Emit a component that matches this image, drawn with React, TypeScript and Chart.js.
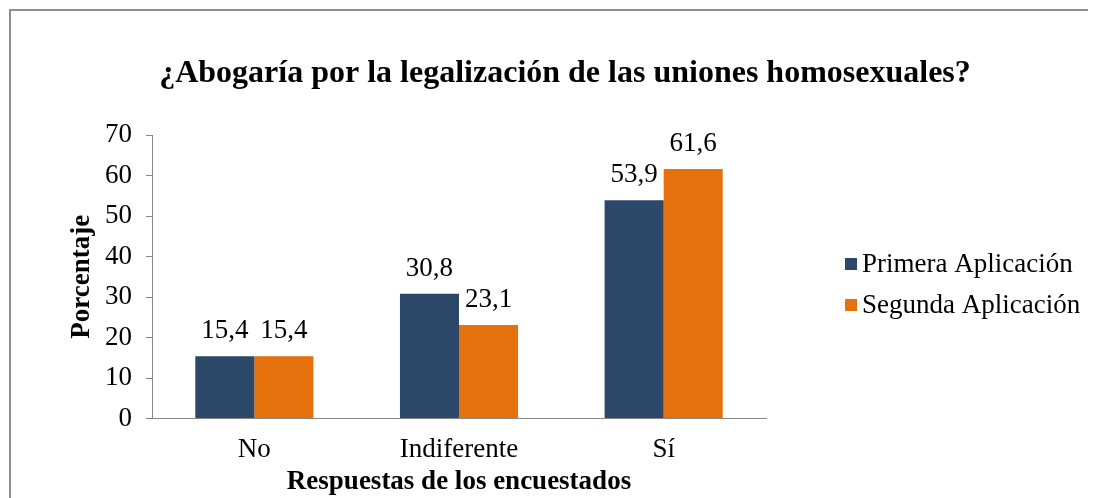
import React, { useEffect, useRef } from "react";
import { Chart, registerables } from "chart.js";

Chart.register(...registerables);

const TITLE = "¿Abogaría por la legalización de las uniones homosexuales?";
const CATEGORIES = ["No", "Indiferente", "Sí"];
const SERIES_NAMES = ["Primera Aplicación", "Segunda Aplicación"];
const PRIMERA = [15.4, 30.8, 53.9];
const SEGUNDA = [15.4, 23.1, 61.6];
const COLORS = ["#2C4869", "#E5710C"];
const Y_TITLE = "Porcentaje";
const X_TITLE = "Respuestas de los encuestados";
const Y_MIN = 0;
const Y_MAX = 70;
const Y_STEP = 10;

const FONT = "'Liberation Serif', 'Times New Roman', serif";
const AXIS_GRAY = "#868686";
const TEXT_SIZE = 27;

const annotate = {
  id: "annotate",
  afterDatasetsDraw(chart: any) {
    const ctx = chart.ctx;
    ctx.save();
    ctx.fillStyle = "#000";
    ctx.font = `${TEXT_SIZE}px ${FONT}`;
    ctx.textAlign = "center";
    ctx.textBaseline = "alphabetic";
    chart.data.datasets.forEach((ds: any, i: number) => {
      const meta = chart.getDatasetMeta(i);
      meta.data.forEach((bar: any, j: number) => {
        const v = ds.data[j] as number;
        ctx.fillText(v.toFixed(1).replace(".", ","), bar.x, bar.y - 18);
      });
    });
    ctx.restore();
  },
  afterDraw(chart: any) {
    const ctx = chart.ctx;
    ctx.save();
    // title
    ctx.fillStyle = "#000";
    ctx.font = `bold 32px ${FONT}`;
    ctx.textAlign = "center";
    ctx.textBaseline = "alphabetic";
    ctx.fillText(TITLE, 557, 74);
    // legend
    ctx.font = `${TEXT_SIZE}px ${FONT}`;
    ctx.textAlign = "left";
    ctx.textBaseline = "middle";
    const ys = [256, 297];
    chart.data.datasets.forEach((ds: any, i: number) => {
      ctx.fillStyle = ds.backgroundColor;
      ctx.fillRect(837, ys[i] - 6, 12, 12);
      ctx.fillStyle = "#000";
      ctx.fillText(ds.label, 854, ys[i] + 1);
    });
    ctx.restore();
  },
};

export default function App() {
  const ref = useRef<HTMLCanvasElement | null>(null);
  useEffect(() => {
    if (!ref.current) return;
    const chart = new Chart(ref.current, {
      type: "bar",
      data: {
        labels: CATEGORIES,
        datasets: [
          { label: SERIES_NAMES[0], data: PRIMERA, backgroundColor: COLORS[0] },
          { label: SERIES_NAMES[1], data: SEGUNDA, backgroundColor: COLORS[1] },
        ],
      },
      options: {
        animation: false,
        responsive: true,
        maintainAspectRatio: false,
        layout: { padding: { top: 127, right: 330, left: 0, bottom: 0 } },
        datasets: { bar: { categoryPercentage: 0.577, barPercentage: 1 } },
        plugins: {
          legend: { display: false },
          title: { display: false },
          tooltip: { enabled: false },
        },
        scales: {
          x: {
            grid: { drawOnChartArea: false, drawTicks: false, color: AXIS_GRAY },
            border: { display: true, color: AXIS_GRAY, width: 1 },
            ticks: { color: "#000", font: { family: FONT, size: TEXT_SIZE }, padding: 15, maxRotation: 0 },
            title: {
              display: true,
              text: X_TITLE,
              color: "#000",
              font: { family: FONT, size: TEXT_SIZE, weight: "bold" },
              padding: { top: 0, bottom: 0 },
            },
            afterFit(scale: any) {
              scale.height = 79.5;
            },
          },
          y: {
            min: Y_MIN,
            max: Y_MAX,
            grid: { drawOnChartArea: false, drawTicks: true, tickLength: 6, color: AXIS_GRAY },
            border: { display: true, color: AXIS_GRAY, width: 1 },
            ticks: { stepSize: Y_STEP, color: "#000", font: { family: FONT, size: TEXT_SIZE }, padding: 14 },
            title: {
              display: true,
              text: Y_TITLE,
              color: "#000",
              font: { family: FONT, size: TEXT_SIZE, weight: "bold" },
              padding: { top: 58, bottom: 0 },
            },
            afterFit(scale: any) {
              scale.width = 144;
            },
          },
        },
      },
      plugins: [annotate],
    });
    return () => chart.destroy();
  }, []);

  return (
    <div style={{ position: "relative", width: 1088, height: 490, overflow: "hidden", background: "#fff" }}>
      <canvas ref={ref} />
      <div
        style={{
          position: "absolute",
          left: 1,
          top: 1,
          width: 1200,
          height: 600,
          border: "2px solid #8f8f8f",
          pointerEvents: "none",
        }}
      />
    </div>
  );
}
